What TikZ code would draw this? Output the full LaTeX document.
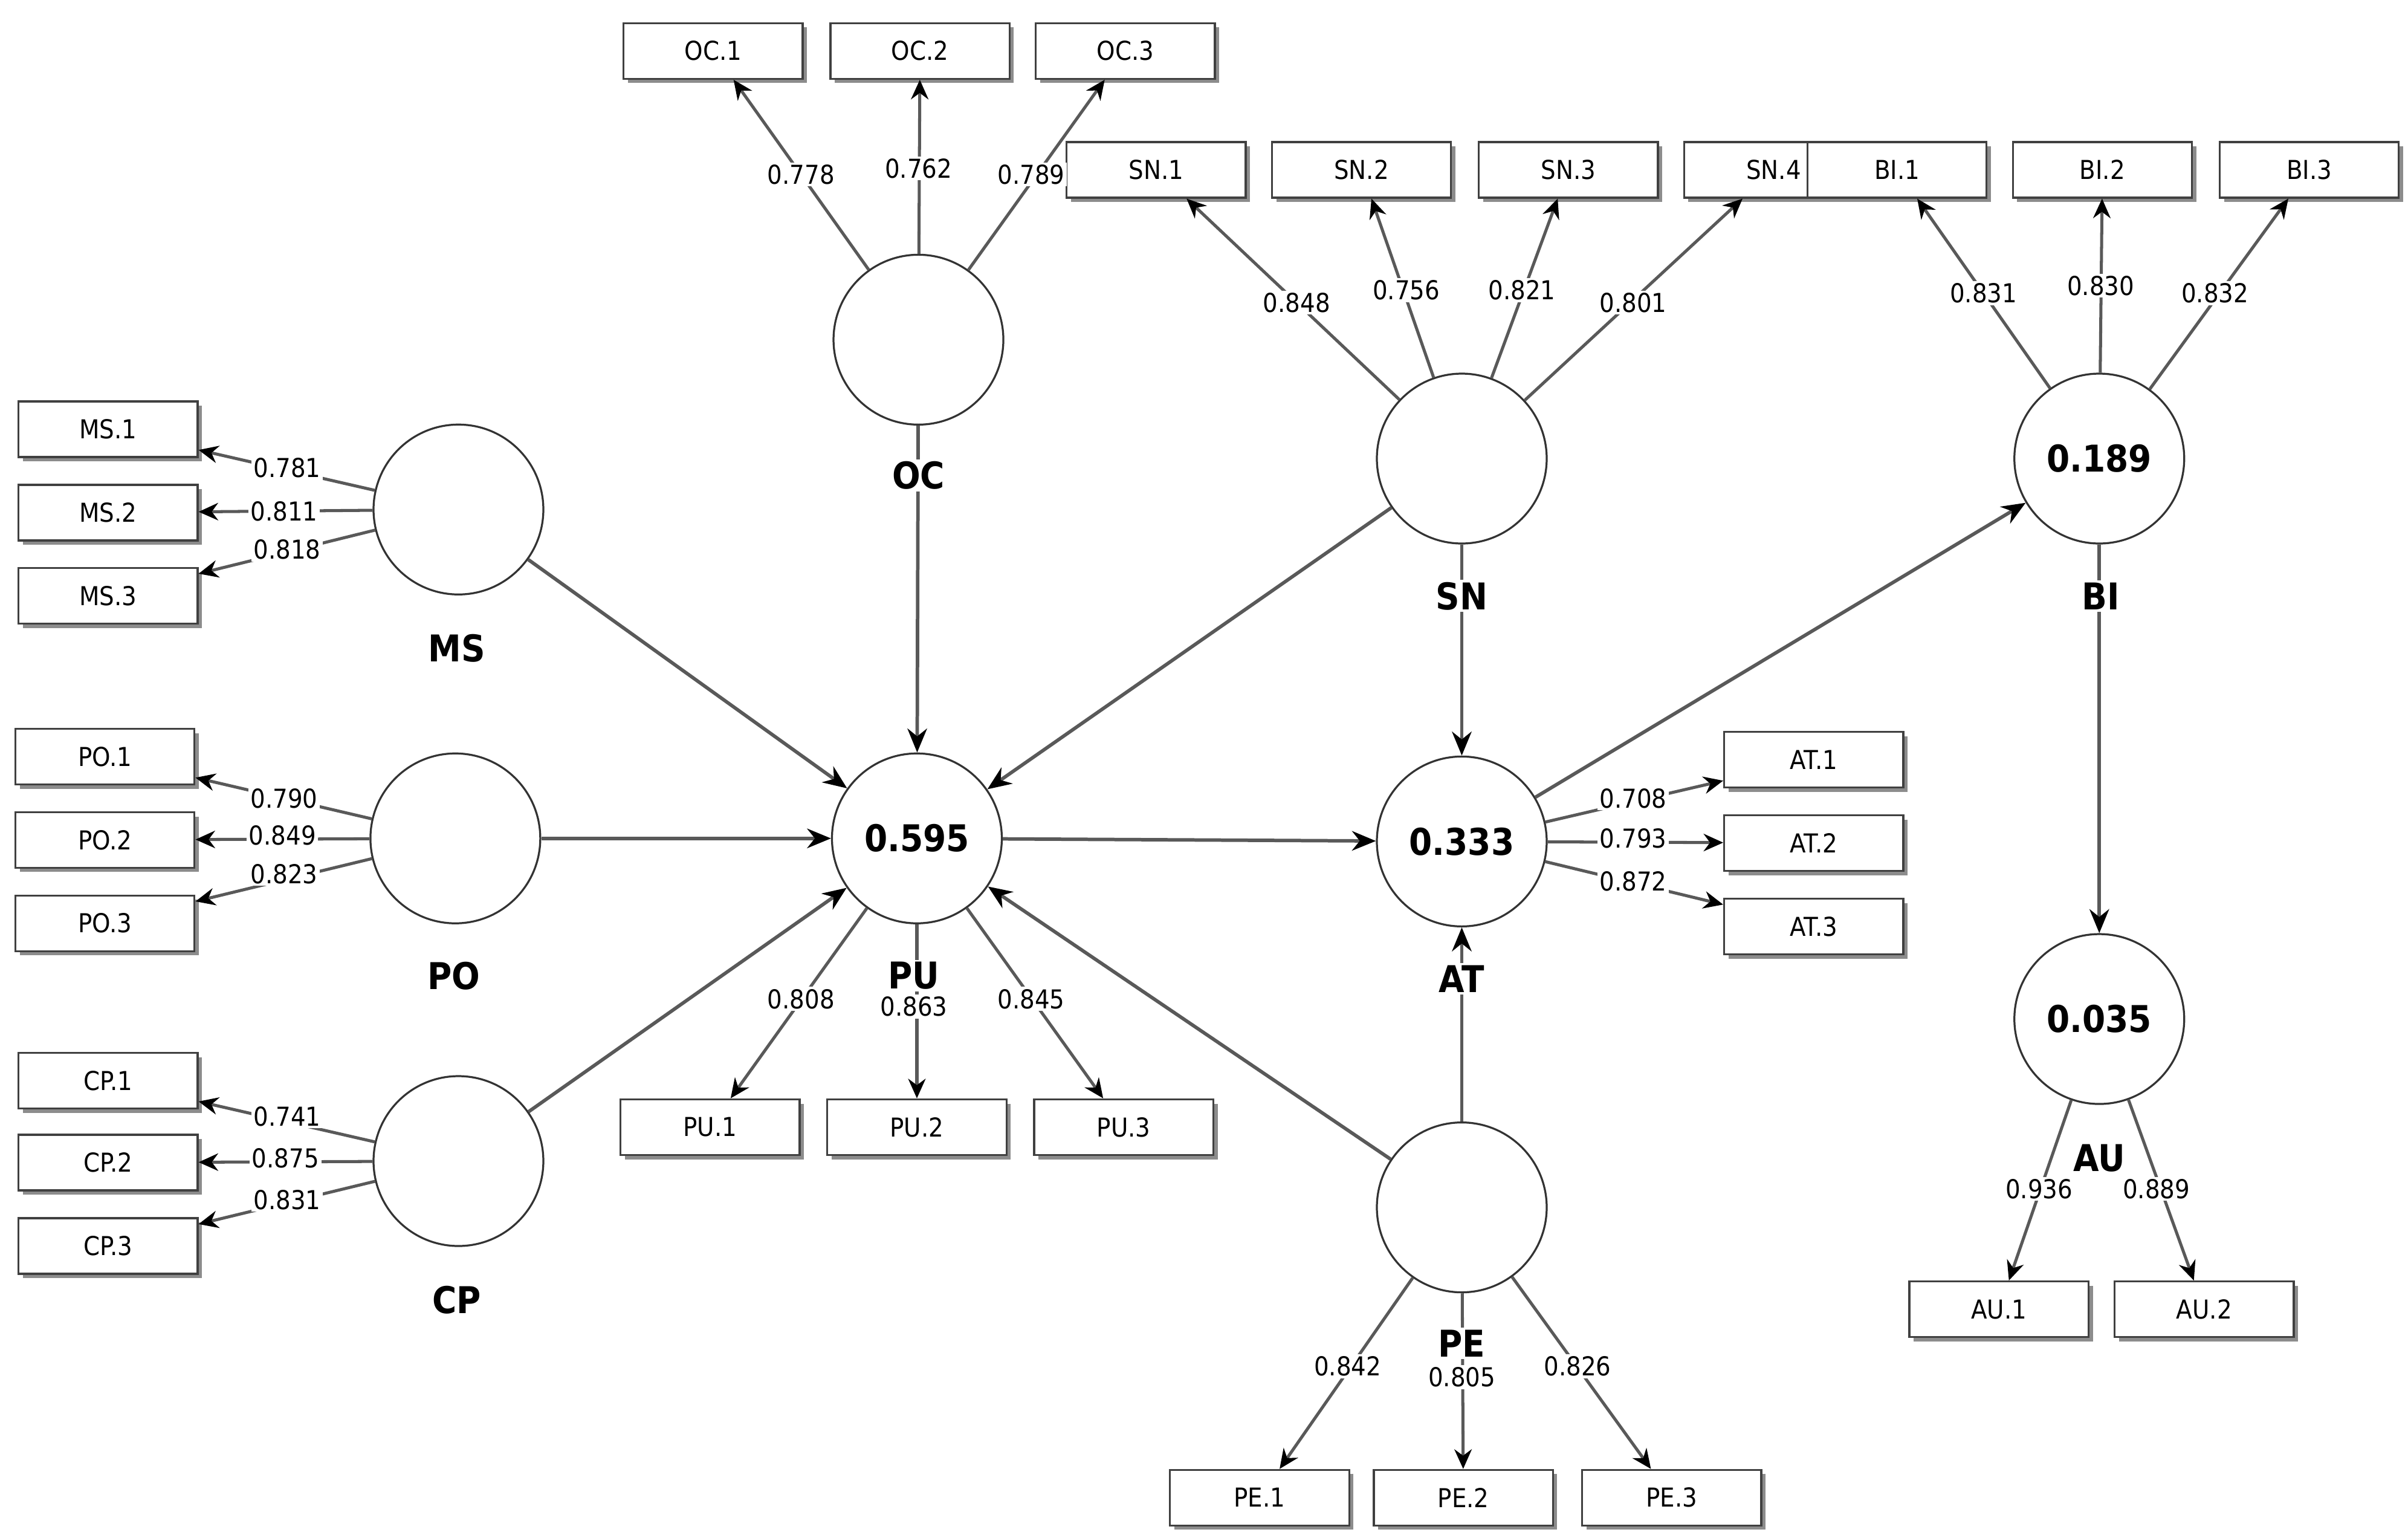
\documentclass[tikz,border=0pt]{standalone}
\usepackage{fontspec}
\setmainfont{DejaVu Sans Condensed}
\usetikzlibrary{arrows.meta,shadows}
\begin{document}
\begin{tikzpicture}[x=0.025cm,y=-0.025cm,
 lv/.style={circle,draw=black!80,line width=0.9pt,minimum size=2.75cm,inner sep=0pt,font=\fontsize{17}{17}\selectfont\bfseries},
 ind/.style={rectangle,draw=black!75,line width=0.9pt,fill=white,minimum width=2.9cm,minimum height=0.9cm,font=\fontsize{12}{12}\selectfont,drop shadow={shadow xshift=2pt,shadow yshift=-2pt,fill=black!45,opacity=1}},
 nm/.style={font=\fontsize{17}{17}\selectfont\bfseries,fill=white,inner sep=1pt},
 ld/.style={font=\fontsize{12}{12}\selectfont,fill=white,inner sep=1pt},
 ar/.style={draw=black!65,line width=1.4pt,-{Stealth[length=9pt,width=8pt,black]}},
 st/.style={draw=black!65,line width=1.6pt,-{Stealth[length=11pt,width=9pt,black]}}]
\useasboundingbox (0,0) rectangle (1560,996);
% latent variables
\node[lv] (OC) at (595,220) {};
\node[lv] (MS) at (297,330) {};
\node[lv] (PO) at (295,543) {};
\node[lv] (CP) at (297,752) {};
\node[lv] (PU) at (594,543) {0.595};
\node[lv] (SN) at (947,297) {};
\node[lv] (AT) at (947,545) {0.333};
\node[lv] (PE) at (947,782) {};
\node[lv] (BI) at (1360,297) {0.189};
\node[lv] (AU) at (1360,660) {0.035};
% indicators
\foreach \l/\k/\x/\y in {OC/1/462/33,OC/2/596/33,OC/3/729/33,SN/1/749/110,SN/2/882/110,SN/3/1016/110,SN/4/1149/110,BI/1/1229/110,BI/2/1362/110,BI/3/1496/110,MS/1/70/278,MS/2/70/332,MS/3/70/386,PO/1/68/490,PO/2/68/544,PO/3/68/598,CP/1/70/700,CP/2/70/753,CP/3/70/807,PU/1/460/730,PU/2/594/730,PU/3/728/730,AT/1/1175/492,AT/2/1175/546,AT/3/1175/600,PE/1/816/970,PE/2/948/970,PE/3/1083/970,AU/1/1295/848,AU/2/1428/848}
  \node[ind] (\l-\k) at (\x,\y) {\l.\k};
% structural paths
\draw[st] (MS) -- (PU);
\draw[st] (PO) -- (PU);
\draw[st] (CP) -- (PU);
\draw[st] (OC) -- (PU);
\draw[st] (SN) -- (PU);
\draw[st] (PE) -- (PU);
\draw[st] (PU) -- (AT);
\draw[st] (SN) -- (AT);
\draw[st] (PE) -- (AT);
\draw[st] (AT) -- (BI);
\draw[st] (BI) -- (AU);
% outer loadings
\foreach \l/\k in {OC/1,OC/2,OC/3,SN/1,SN/2,SN/3,SN/4,BI/1,BI/2,BI/3,MS/1,MS/2,MS/3,PO/1,PO/2,PO/3,CP/1,CP/2,CP/3,PU/1,PU/2,PU/3,AT/1,AT/2,AT/3,PE/1,PE/2,PE/3,AU/1,AU/2}
  \draw[ar] (\l) -- (\l-\k);
% loading labels
\foreach \v/\x/\y in {0.778/519/113,0.762/595/109,0.789/668/113,0.848/840/196,0.756/911/188,0.821/986/188,0.801/1058/196,0.831/1285/190,0.830/1361/185,0.832/1435/190,0.781/186/303,0.811/184/331,0.818/186/356,0.790/184/517,0.849/183/541,0.823/184/566,0.741/186/723,0.875/185/750,0.831/186/777,0.808/519/647,0.863/592/652,0.845/668/647,0.708/1058/517,0.793/1058/543,0.872/1058/571,0.842/873/885,0.805/947/892,0.826/1022/885,0.936/1321/770,0.889/1397/770}
  \node[ld] at (\x,\y) {\v};
% names
\node[nm] (nOC) at (595,308) {OC};
\node[nm] (nMS) at (296,420) {MS};
\node[nm] (nPO) at (294,632) {PO};
\node[nm] (nCP) at (296,842) {CP};
\node[nm] (nPU) at (592,632) {PU};
\node[nm] (nSN) at (947,386) {SN};
\node[nm] (nAT) at (947,634) {AT};
\node[nm] (nPE) at (947,870) {PE};
\node[nm] (nBI) at (1361,386) {BI};
\node[nm] (nAU) at (1360,750) {AU};
\end{tikzpicture}
\end{document}
